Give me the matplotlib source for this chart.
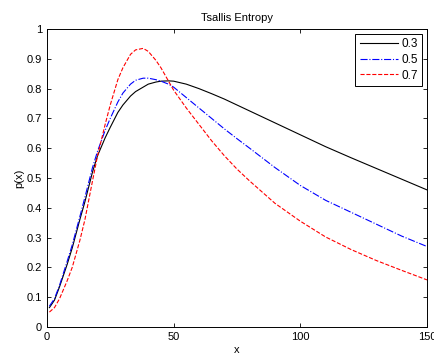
import matplotlib
matplotlib.use("Agg")
import matplotlib.pyplot as plt

# data
x = [1, 3, 5, 8, 10, 13, 15, 18, 20, 23, 25, 28, 30, 33, 35, 38, 40, 43, 45, 48, 50,
     55, 60, 65, 70, 75, 80, 90, 100, 110, 120, 130, 140, 150]

p_03 = [0.065, 0.09, 0.135, 0.21, 0.265, 0.36, 0.42, 0.52, 0.575, 0.635, 0.67, 0.72,
        0.745, 0.775, 0.79, 0.805, 0.815, 0.822, 0.825, 0.826, 0.825,
        0.815, 0.80, 0.783, 0.765, 0.745, 0.725, 0.685, 0.645, 0.605, 0.568, 0.532, 0.496, 0.46]
p_05 = [0.07, 0.095, 0.14, 0.22, 0.275, 0.37, 0.435, 0.535, 0.59, 0.66, 0.70, 0.755,
        0.785, 0.815, 0.828, 0.835, 0.835, 0.83, 0.825, 0.815, 0.805,
        0.77, 0.735, 0.70, 0.665, 0.632, 0.60, 0.535, 0.475, 0.425, 0.385, 0.345, 0.305, 0.27]
p_07 = [0.05, 0.065, 0.095, 0.155, 0.20, 0.29, 0.36, 0.49, 0.575, 0.68, 0.745, 0.83,
        0.87, 0.915, 0.93, 0.935, 0.925, 0.895, 0.87, 0.825, 0.795,
        0.735, 0.68, 0.625, 0.575, 0.53, 0.49, 0.415, 0.355, 0.302, 0.26, 0.223, 0.19, 0.158]

labels = ['0.3', '0.5', '0.7']

plt.rcParams['font.family'] = ['Liberation Sans', 'DejaVu Sans']
plt.rcParams['font.size'] = 8

fig = plt.figure(figsize=(4.34, 3.56), dpi=100)
ax = fig.add_axes([0.108, 0.0815, 0.876, 0.837])

ax.plot(x, p_03, color='k', linestyle='-', linewidth=0.8, label=labels[0])
ax.plot(x, p_05, color='b', linestyle='-.', linewidth=0.8, label=labels[1])
ax.plot(x, p_07, color='r', linestyle='--', linewidth=0.8, label=labels[2])

ax.set_xlim(0, 150)
ax.set_ylim(0, 1)
ax.set_xticks([0, 50, 100, 150])
ax.set_yticks([i / 10 for i in range(11)])
ax.set_yticklabels(['0', '0.1', '0.2', '0.3', '0.4', '0.5', '0.6', '0.7', '0.8', '0.9', '1'])
ax.tick_params(direction='in', top=True, right=True, length=3, width=0.6, labelsize=8)
for s in ax.spines.values():
    s.set_linewidth(0.7)

ax.set_title('Tsallis Entropy', fontsize=8, pad=6)
ax.set_xlabel('x', fontsize=8, labelpad=2)
ax.set_ylabel('p(x)', fontsize=8, labelpad=2)

leg = ax.legend(loc='upper right', fancybox=False, framealpha=1, edgecolor='k',
                fontsize=8.5, handlelength=3.2, borderpad=0.4, labelspacing=0.3,
                handletextpad=0.3, borderaxespad=0.4)
leg.get_frame().set_linewidth(0.7)

fig.savefig('out.png', dpi=100)
